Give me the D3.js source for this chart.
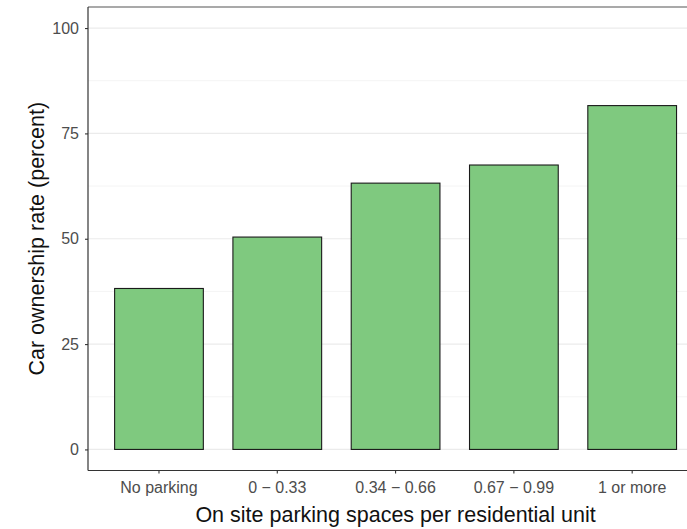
<!DOCTYPE html>
<html>
<head>
<meta charset="utf-8">
<script src="https://cdn.jsdelivr.net/npm/d3@7"></script>
<style>
  html, body { margin: 0; padding: 0; background: #fff; overflow: hidden; }
  text { font-family: "Liberation Sans", Arial, sans-serif; }
</style>
</head>
<body>
<div id="chart"></div>
<script>
  var categories = ['No parking', '0 \u2212 0.33', '0.34 \u2212 0.66', '0.67 \u2212 0.99', '1 or more'];
  var ownership = [38.2, 50.4, 63.2, 67.5, 81.6];
  var yTicks = [0, 25, 50, 75, 100];
  var yMinor = [12.5, 37.5, 62.5, 87.5];

(function () {
  var W = 687, H = 529;
  var panelLeft = 88, panelTop = 7, panelBottom = 470.5;
  var step = 118.3;
  // discrete axis: 0.6 step expansion on each side (panel runs past the window)
  var panelRight = panelLeft + step * (categories.length + 0.2);

  var svg = d3.select('#chart').append('svg')
    .attr('width', W).attr('height', H)
    .style('display', 'block');

  var x = d3.scaleBand()
    .domain(categories)
    .range([panelLeft + step * 0.1, panelRight - step * 0.1])
    .paddingInner(0.25)
    .paddingOuter(0.125);

  var y = d3.scaleLinear().domain([-5, 105]).range([panelBottom, panelTop]);

  var g = svg.append('g');

  // grid
  g.selectAll('line.minor').data(yMinor).join('line')
    .attr('class', 'minor')
    .attr('x1', panelLeft).attr('x2', panelRight)
    .attr('y1', function (d) { return y(d); }).attr('y2', function (d) { return y(d); })
    .attr('stroke', '#f4f4f4').attr('stroke-width', 1);
  g.selectAll('line.major').data(yTicks).join('line')
    .attr('class', 'major')
    .attr('x1', panelLeft).attr('x2', panelRight)
    .attr('y1', function (d) { return y(d); }).attr('y2', function (d) { return y(d); })
    .attr('stroke', '#ebebeb').attr('stroke-width', 1.2);

  // bars
  g.selectAll('rect.bar').data(ownership).join('rect')
    .attr('class', 'bar')
    .attr('x', function (d, i) { return x(categories[i]); })
    .attr('width', x.bandwidth())
    .attr('y', function (d) { return y(d); })
    .attr('height', function (d) { return y(0) - y(d); })
    .attr('fill', '#7fc97f')
    .attr('stroke', '#1a1a1a')
    .attr('stroke-width', 1.1);

  // panel border top
  svg.append('line').attr('x1', panelLeft).attr('x2', panelRight)
    .attr('y1', panelTop).attr('y2', panelTop)
    .attr('stroke', '#555').attr('stroke-width', 1.2);

  var yAxis = svg.append('g')
    .attr('transform', 'translate(' + panelLeft + ',0)')
    .call(d3.axisLeft(y).tickValues(yTicks).tickSize(3).tickPadding(6));
  var xAxis = svg.append('g')
    .attr('transform', 'translate(0,' + panelBottom + ')')
    .call(d3.axisBottom(x).tickSize(3).tickPadding(8));

  [yAxis, xAxis].forEach(function (a) {
    a.select('.domain').attr('stroke', '#333').attr('stroke-width', 1.2);
    a.selectAll('.tick line').attr('stroke', '#333').attr('stroke-width', 1.1);
    a.selectAll('.tick text')
      .attr('fill', '#4d4d4d')
      .style('font-size', '16px')
      .style('font-family', '"Liberation Sans", Arial, sans-serif');
  });
  xAxis.select('.domain').attr('d', 'M' + panelLeft + ',0H' + panelRight);
  yAxis.select('.domain').attr('d', 'M0,' + panelTop + 'V' + panelBottom);

  svg.append('text')
    .attr('x', (panelLeft + panelRight) / 2)
    .attr('y', 522)
    .attr('text-anchor', 'middle')
    .attr('fill', '#111')
    .style('font-size', '21.5px')
    .text('On site parking spaces per residential unit');

  svg.append('text')
    .attr('transform', 'translate(44,' + ((panelTop + panelBottom) / 2) + ') rotate(-90)')
    .attr('text-anchor', 'middle')
    .attr('fill', '#111')
    .style('font-size', '21.5px')
    .text('Car ownership rate (percent)');
})();
</script>
</body>
</html>
